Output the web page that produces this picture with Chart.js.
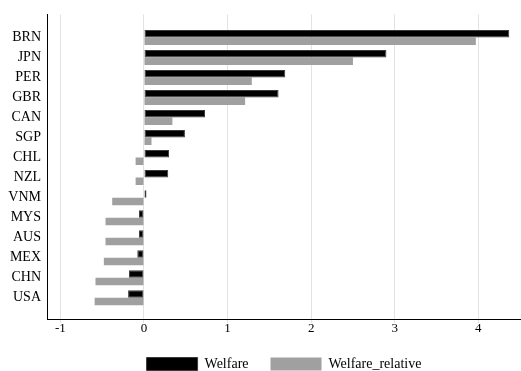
<!DOCTYPE html>
<html>
<head>
<meta charset="utf-8">
<script src="https://cdn.jsdelivr.net/npm/chart.js@4/dist/chart.umd.min.js"></script>
<style>
  html, body { margin: 0; padding: 0; background: #fff; }
  #wrap { width: 521px; height: 371px; }
</style>
</head>
<body>
<div id="wrap"><canvas id="welfare-chart"></canvas></div>
<script>
// Countries, top to bottom
const countries = ['BRN', 'JPN', 'PER', 'GBR', 'CAN', 'SGP', 'CHL', 'NZL', 'VNM', 'MYS', 'AUS', 'MEX', 'CHN', 'USA'];
const welfare = [4.37, 2.90, 1.69, 1.61, 0.73, 0.49, 0.30, 0.29, 0.03, -0.06, -0.06, -0.08, -0.18, -0.19];
const welfareRelative = [3.97, 2.50, 1.29, 1.21, 0.34, 0.09, -0.10, -0.10, -0.38, -0.46, -0.46, -0.48, -0.58, -0.59];
const xTicks = [-1, 0, 1, 2, 3, 4];

const serif = 'Liberation Serif';

// rows are placed on a numeric axis so the plot keeps some room above and below
const toPoints = (values) => values.map((v, i) => ({ x: v, y: i }));

const ctx = document.getElementById('welfare-chart');

new Chart(ctx, {
    type: 'bar',
    data: {
        datasets: [
            {
                label: 'Welfare',
                data: toPoints(welfare),
                backgroundColor: '#000000',
                borderColor: '#3a3a3a',
                borderWidth: 1,
                borderSkipped: false,
            },
            {
                label: 'Welfare_relative',
                data: toPoints(welfareRelative),
                backgroundColor: '#a0a0a0',
                borderWidth: 0,
            },
        ],
    },
    options: {
        indexAxis: 'y',
        responsive: true,
        maintainAspectRatio: false,
        animation: false,
        datasets: {
            bar: {
                categoryPercentage: 0.75,
                barPercentage: 1.0,
            },
        },
        layout: {
            // legend sits low, partly past the bottom edge
            padding: { top: 11, right: 0, left: 0, bottom: -10 },
        },
        plugins: {
            tooltip: { enabled: false },
            legend: {
                display: true,
                position: 'bottom',
                fullSize: false,
                labels: {
                    boxWidth: 51,
                    boxHeight: 13,
                    padding: 22,
                    color: '#000',
                    font: { family: serif, size: 14 },
                },
            },
        },
        scales: {
            x: {
                type: 'linear',
                min: -1.16,
                max: 4.51,
                afterBuildTicks: (scale) => {
                    scale.ticks = xTicks.map((v) => ({ value: v }));
                },
                afterFit: (scale) => {
                    scale.height = 16;
                },
                grid: {
                    color: '#e3e3e3',
                    lineWidth: 1,
                    tickLength: 4,
                },
                border: { color: '#000', width: 1 },
                ticks: {
                    padding: -2,
                    color: '#000',
                    font: { family: serif, size: 13 },
                },
            },
            y: {
                type: 'linear',
                reverse: true,
                offset: false,
                min: -1.15,
                max: 14.06,
                afterBuildTicks: (scale) => {
                    scale.ticks = countries.map((c, i) => ({ value: i }));
                },
                afterFit: (scale) => {
                    scale.width = 47;
                },
                grid: { display: false, drawTicks: false, offset: false },
                border: { color: '#000', width: 1 },
                ticks: {
                    padding: 6,
                    color: '#000',
                    font: { family: serif, size: 14 },
                    callback: (value) => countries[value] ?? '',
                },
            },
        },
    },
});
</script>
</body>
</html>
